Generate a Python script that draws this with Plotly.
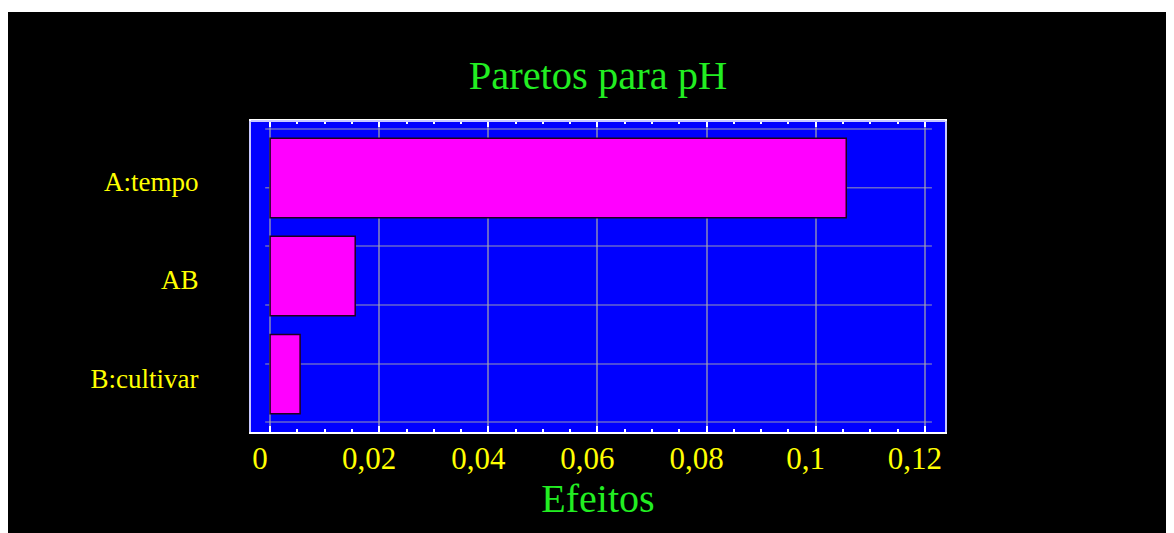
import plotly.graph_objects as go

# Data
categories = ["B:cultivar", "AB", "A:tempo"]
effects = [0.0055, 0.0156, 0.1056]
x_tick_vals = [0, 0.02, 0.04, 0.06, 0.08, 0.10, 0.12]
x_tick_text = ["0", "0,02", "0,04", "0,06", "0,08", "0,1", "0,12"]

W, H = 1166, 525
ML, MR, MT, MB = 243, 229, 113, 101
PW, PH = W - ML - MR, H - MT - MB

FONT = "Liberation Serif"

fig = go.Figure()
fig.add_trace(go.Bar(
    x=effects, y=categories, orientation="h", width=0.81,
    marker=dict(color="#ff00ff", line=dict(color="#200020", width=1.5)),
    hoverinfo="x+y",
))

shapes = []
# horizontal grid lines (independent of categories in the original)
for yp in [0.974, 0.785, 0.598, 0.408, 0.219, 0.032]:
    shapes.append(dict(type="line", xref="x", yref="paper", x0=-0.0009, x1=0.1213,
                       y0=yp, y1=yp, line=dict(color="rgba(170,170,170,0.6)", width=1.5),
                       layer="below"))
# top frame line (lavender) drawn over the white mirrored line
shapes.append(dict(type="line", xref="paper", yref="paper", x0=0, x1=1, y0=1, y1=1,
                   line=dict(color="#c8c8ff", width=2), layer="above"))
# white strip at top of page
shapes.append(dict(type="rect", xref="paper", yref="paper",
                   x0=-ML / PW - 0.05, x1=1 + MR / PW + 0.05,
                   y0=1 + (MT - 4) / PH, y1=1 + MT / PH + 0.05,
                   fillcolor="white", line=dict(width=0), layer="above"))

fig.update_layout(
    width=W, height=H,
    margin=dict(l=ML, r=MR, t=MT, b=MB, pad=0),
    paper_bgcolor="black", plot_bgcolor="#0000ff",
    showlegend=False,
    bargap=0.19,
    title=dict(text="Paretos para pH", x=0.5, xref="paper", xanchor="center",
               y=1 - 67 / H, yref="container", yanchor="middle",
               font=dict(family=FONT, size=40.5, color="#22ee22")),
    shapes=shapes,
    xaxis=dict(
        range=[-0.0035, 0.1237], tickvals=x_tick_vals, ticktext=x_tick_text,
        showgrid=True, gridcolor="rgba(170,170,170,0.6)", gridwidth=1.5,
        zeroline=False,
        ticks="inside", ticklen=6, tickcolor="white", tickwidth=1.5,
        minor=dict(dtick=0.005, ticks="inside", ticklen=3, tickcolor="white", showgrid=False),
        showline=True, linecolor="white", linewidth=2, mirror="allticks",
        tickfont=dict(family=FONT, size=31, color="#ffff00"),
        ticklabelshift=-10, ticklabelstandoff=-2,
        title=dict(text="Efeitos", font=dict(family=FONT, size=40, color="#22ee22"), standoff=9),
    ),
    yaxis=dict(
        type="category", categoryorder="array", categoryarray=categories,
        range=[-0.59, 2.58],
        showgrid=False, zeroline=False, ticks="",
        showline=True, linecolor="#c8c8ff", linewidth=2, mirror=True,
        tickfont=dict(family=FONT, size=27, color="#ffff00"),
        ticklabelstandoff=45, ticklabelshift=4,
    ),
)

fig.write_html("out.html")
